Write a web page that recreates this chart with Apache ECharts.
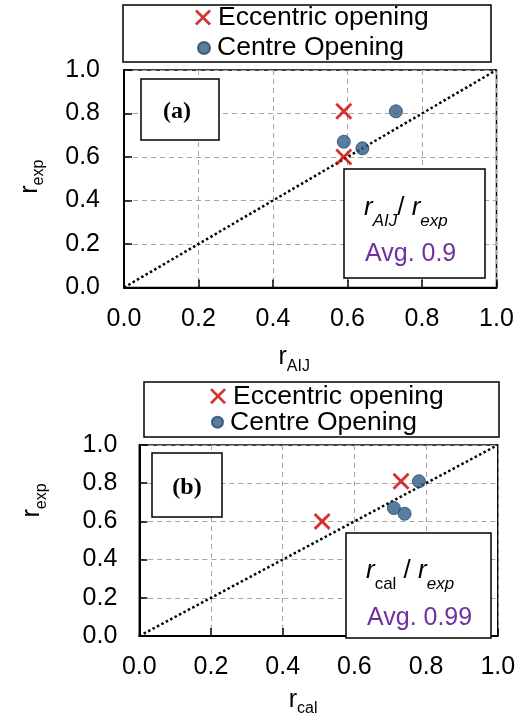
<!DOCTYPE html>
<html><head><meta charset="utf-8">
<script src="https://cdn.jsdelivr.net/npm/echarts@6/dist/echarts.min.js"></script>
<style>html,body{margin:0;padding:0;background:#fff}#c{width:523px;height:718px}</style>
</head><body><div id="c"></div>
<script>
// ---- data ----
const seriesNames = ['Eccentric opening', 'Centre Opening'];
const aEccX = [0.59, 0.59];
const aEccY = [0.81, 0.60];
const aCenX = [0.73, 0.59, 0.64];
const aCenY = [0.81, 0.67, 0.64];
const bEccX = [0.73, 0.51];
const bEccY = [0.81, 0.60];
const bCenX = [0.78, 0.71, 0.74];
const bCenY = [0.81, 0.67, 0.64];
const refLineX = [0, 1];
const refLineY = [0, 1];
const axisMin = 0, axisMax = 1, axisStep = 0.2;
const panelLabels = ['(a)', '(b)'];
const avgTexts = ['Avg. 0.9', 'Avg. 0.99'];

// ---- helpers ----
const zip = (xs, ys) => xs.map((x, i) => [x, ys[i]]);
const FONT = "'Liberation Sans', Arial, sans-serif";
const SERIF = "'Liberation Serif', 'Times New Roman', serif";
const RED = '#CC0000';
const BLUE = '#2E5C87';
const CROSS = 'path://M0,1.2L1.2,0L5,3.8L8.8,0L10,1.2L6.2,5L10,8.8L8.8,10L5,6.2L1.2,10L0,8.8L3.8,5Z';

const grids = [
  {left: 124, top: 70, width: 372.5, height: 217.5},
  {left: 139.3, top: 445, width: 358.5, height: 199}
];

function nameRich() {
  return {
    r: {fontSize: 25, fontFamily: FONT, color: '#000', lineHeight: 28},
    s: {fontSize: 16, fontFamily: FONT, color: '#000', lineHeight: 16, padding: [18, 0, 0, 0]}
  };
}

function mkX(gi, sub, gap, shift) {
  return {
    type: 'value', gridIndex: gi, min: axisMin, max: axisMax, interval: axisStep,
    axisLine: {show: true, onZero: false, lineStyle: {color: '#000', width: 2}},
    axisTick: {show: true, inside: true, length: 8, lineStyle: {color: '#000', width: 1.5}},
    axisLabel: {margin: 19, fontSize: 25, color: '#000', fontFamily: FONT, formatter: v => v.toFixed(1)},
    splitLine: {show: true, lineStyle: {color: '#A6A6A6', type: [5, 4], width: 1}},
    name: '{r|r}{s|' + sub + '}', nameLocation: 'middle', nameGap: gap,
    nameTextStyle: {padding: [0, shift, 0, 0], rich: nameRich()}
  };
}
function mkY(gi, gap, margin, shift) {
  return {
    type: 'value', gridIndex: gi, min: axisMin, max: axisMax, interval: axisStep,
    axisLine: {show: true, onZero: false, lineStyle: {color: '#000', width: 2}},
    axisTick: {show: true, inside: true, length: 8, lineStyle: {color: '#000', width: 1.5}},
    axisLabel: {margin: margin, fontSize: 25, color: '#000', fontFamily: FONT, formatter: v => v.toFixed(1)},
    splitLine: {show: true, lineStyle: {color: '#A6A6A6', type: [5, 4], width: 1}},
    name: '{r|r}{s|exp}', nameLocation: 'middle', nameGap: gap,
    nameTextStyle: {padding: [0, 0, 0, shift], rich: nameRich()}
  };
}

function seriesFor(gi, eccX, eccY, cenX, cenY) {
  return [
    {type: 'line', xAxisIndex: gi, yAxisIndex: gi, data: zip(refLineX, refLineY), showSymbol: false, symbol: 'none',
     lineStyle: {color: '#000', width: 2.5, type: [2.5, 2.5]}, silent: true, z: 2},
    {name: seriesNames[0], type: 'scatter', xAxisIndex: gi, yAxisIndex: gi, data: zip(eccX, eccY),
     symbol: CROSS, symbolSize: 17, itemStyle: {color: RED}, z: 3},
    {name: seriesNames[1], type: 'scatter', xAxisIndex: gi, yAxisIndex: gi, data: zip(cenX, cenY),
     symbol: 'circle', symbolSize: 13, itemStyle: {color: BLUE, borderColor: '#22496F', borderWidth: 1}, z: 3}
  ];
}

function legendItem(name, icon, size, left, centerY) {
  return {
    data: [{name: name, icon: icon}], orient: 'vertical', left: left, top: centerY - 13,
    itemWidth: size, itemHeight: size, padding: 0, selectedMode: false, z: 10,
    textStyle: {fontSize: 26.5, fontFamily: FONT, color: '#000', lineHeight: 26, padding: [0, 0, 0, 2]}
  };
}

function box(x, y, w, h, fill) {
  return {type: 'rect', z: 5, shape: {x: x, y: y, width: w, height: h},
          style: {fill: fill, stroke: '#000', lineWidth: 1.5}};
}
function ratioText(x, y, sub, subItalic, slash) {
  return {
    type: 'text', z: 6, x: x, y: y,
    style: {
      text: '{r|r}{s|' + sub + '}{n|' + slash + '}{r|r}{e|exp}',
      verticalAlign: 'middle', align: 'left',
      rich: {
        r: {fontSize: 26, fontFamily: FONT, fontStyle: 'italic', fill: '#000', lineHeight: 28},
        n: {fontSize: 26, fontFamily: FONT, fill: '#000', lineHeight: 28},
        s: {fontSize: 17, fontFamily: FONT, fontStyle: subItalic ? 'italic' : 'normal', fill: '#000', lineHeight: 17, padding: [26, 0, 0, 0]},
        e: {fontSize: 17, fontFamily: FONT, fontStyle: 'italic', fill: '#000', lineHeight: 17, padding: [26, 0, 0, 0]}
      }
    }
  };
}
function plainText(x, y, text, size, color, family, weight, align) {
  return {type: 'text', z: 6, x: x, y: y,
          style: {text: text, fontSize: size, fontFamily: family, fontWeight: weight, fill: color,
                  align: align, verticalAlign: 'middle'}};
}

const option = {
  animation: false,
  backgroundColor: '#fff',
  grid: grids.map(g => Object.assign({show: true, borderColor: '#000', borderWidth: 1.5, backgroundColor: 'transparent'}, g)),
  xAxis: [mkX(0, 'AIJ', 56, 32), mkX(1, 'cal', 50, 31)],
  yAxis: [mkY(0, 80, 24, 4), mkY(1, 93, 22, 80)],
  legend: [
    legendItem(seriesNames[0], CROSS, 16, 195, 17),
    legendItem(seriesNames[1], 'circle', 12, 197, 47.5),
    legendItem(seriesNames[0], CROSS, 16, 210, 395.7),
    legendItem(seriesNames[1], 'circle', 11, 211, 421.7)
  ],
  series: seriesFor(0, aEccX, aEccY, aCenX, aCenY).concat(seriesFor(1, bEccX, bEccY, bCenX, bCenY)),
  graphic: [
    box(123, 5, 368, 57, 'none'),
    box(144, 382, 355, 55, 'none'),
    box(141, 79, 78, 61, '#fff'),
    plainText(177, 112, panelLabels[0], 24, '#000', SERIF, 'bold', 'center'),
    box(344, 169, 141, 109, '#fff'),
    ratioText(364, 208, 'AIJ', true, '/ '),
    plainText(365, 254, avgTexts[0], 25, '#7030A0', FONT, 'normal', 'left'),
    box(152, 453, 70, 64, '#fff'),
    plainText(187, 488, panelLabels[1], 24, '#000', SERIF, 'bold', 'center'),
    box(346, 533, 145, 105, '#fff'),
    ratioText(366, 571, 'cal', false, ' / '),
    plainText(367, 618, avgTexts[1], 25, '#7030A0', FONT, 'normal', 'left')
  ]
};
const chart = echarts.init(document.getElementById('c'), null, {renderer: 'canvas'});
chart.setOption(option);
</script></body></html>
